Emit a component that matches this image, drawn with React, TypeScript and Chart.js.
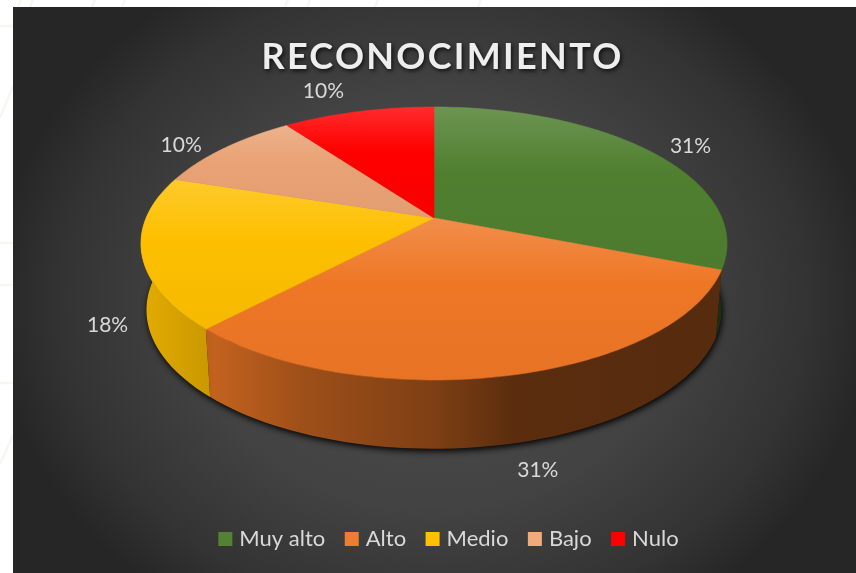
import React, { useEffect, useRef } from "react";
import { Chart, ArcElement, PieController, Legend, Title, Tooltip } from "chart.js";

// Survey shares, in percent
const categories = ["Muy alto", "Alto", "Medio", "Bajo", "Nulo"];
const shares = [31, 31, 18, 10, 10];
const sliceColors = ["#4f7f2f", "#ee7726", "#fdbf00", "#e9a274", "#ff0000"];
const legendColors = ["#548235", "#ed7d31", "#ffc000", "#f0ab7c", "#ff0000"];
const titleText = "RECONOCIMIENTO";

// Offsets of each percentage label from its slice's rim point
const labelOffsets = [
  [41, -5],
  [27, 95],
  [-34, 73],
  [-43, -3],
  [-35, -20],
];

// Viewing model of the tilted disc
const CX = 434;
const CY = 218;
const PERSPECTIVE = 0.1868;
const TOP_RX = 287.9;
const TOP_RY = 131.7;
const BASE_RX = 282.5;
const BASE_RY = 134;
const BASE_DROP = 66;
const TWO_PI = Math.PI * 2;
const FRONT_START = Math.acos(PERSPECTIVE);
const FRONT_END = TWO_PI - FRONT_START;

// Chart.js angle (0 = east, clockwise) to clock angle (0 = north)
const toClock = (a: number) => {
  const t = a + Math.PI / 2;
  return ((t % TWO_PI) + TWO_PI) % TWO_PI;
};

function projectTop(theta: number, radius = 1) {
  const u = Math.sin(theta) * radius;
  const v = -Math.cos(theta) * radius;
  const d = 1 - PERSPECTIVE * v;
  return { x: CX + (TOP_RX * u) / d, y: CY + (TOP_RY * v) / d };
}

function projectBase(theta: number) {
  const u = Math.sin(theta);
  const v = -Math.cos(theta);
  const d = 1 - PERSPECTIVE * v;
  return { x: CX + (BASE_RX * u) / d, y: CY + BASE_DROP + (BASE_RY * v) / d };
}

function tint(hex: string, amount: number) {
  const n = parseInt(hex.slice(1), 16);
  const channels = [(n >> 16) & 255, (n >> 8) & 255, n & 255];
  const out = channels.map((c) =>
    Math.round(amount >= 0 ? c + (255 - c) * amount : c * (1 + amount))
  );
  return `rgb(${out[0]},${out[1]},${out[2]})`;
}

// Light falling across the rim of the disc, left to right
const rimLight: [number, number][] = [
  [0, -0.1],
  [0.115, -0.2],
  [0.125, -0.18],
  [0.27, -0.33],
  [0.5, -0.47],
  [0.64, -0.62],
  [1, -0.64],
];

class Arc3D extends ArcElement {
  static id = "arc3d";

  draw(ctx: CanvasRenderingContext2D) {
    const { startAngle, endAngle } = this as any;
    const color = (this as any).options.backgroundColor as string;
    const from = toClock(startAngle);
    const to = from + (endAngle - startAngle);

    // Side wall, only where it faces the viewer
    const wallFrom = Math.max(from, FRONT_START);
    const wallTo = Math.min(to, FRONT_END);
    if (wallTo > wallFrom) {
      const wall = ctx.createLinearGradient(CX - 293, 0, CX + 293, 0);
      rimLight.forEach(([stop, amount]) => wall.addColorStop(stop, tint(color, amount)));
      ctx.beginPath();
      const steps = 60;
      for (let i = 0; i <= steps; i++) {
        const p = projectTop(wallFrom + ((wallTo - wallFrom) * i) / steps);
        i ? ctx.lineTo(p.x, p.y) : ctx.moveTo(p.x, p.y);
      }
      for (let i = steps; i >= 0; i--) {
        const p = projectBase(wallFrom + ((wallTo - wallFrom) * i) / steps);
        ctx.lineTo(p.x, p.y);
      }
      ctx.closePath();
      ctx.fillStyle = wall;
      ctx.fill();
    }

    // Top face
    const rim: { x: number; y: number }[] = [];
    const steps = 90;
    for (let i = 0; i <= steps; i++) rim.push(projectTop(from + ((to - from) * i) / steps));
    const ys = rim.map((p) => p.y).concat(CY);
    const minY = Math.min(...ys);
    const maxY = Math.max(...ys);
    const face = ctx.createLinearGradient(0, minY, 0, maxY);
    face.addColorStop(0, tint(color, 0.17));
    face.addColorStop(0.4, tint(color, 0));
    face.addColorStop(1, tint(color, -0.03));
    ctx.beginPath();
    ctx.moveTo(CX, CY);
    rim.forEach((p) => ctx.lineTo(p.x, p.y));
    ctx.closePath();
    ctx.fillStyle = face;
    ctx.strokeStyle = face;
    ctx.lineWidth = 0.6;
    ctx.fill();
    ctx.stroke();
  }
}

class Pie3DController extends PieController {
  static id = "pie3d";
  static defaults = { ...PieController.defaults, dataElementType: "arc3d" };
}

Chart.register(Pie3DController, Arc3D, ArcElement, PieController, Legend, Title, Tooltip);

// White page, faint backdrop strokes, then the dark panel
const panelPlugin = {
  id: "panel",
  beforeDraw(chart: Chart) {
    const { ctx, width, height } = chart;
    ctx.save();
    ctx.fillStyle = "#ffffff";
    ctx.fillRect(0, 0, width, height);
    ctx.strokeStyle = "#f6f6f2";
    ctx.lineWidth = 2.5;
    const strokes = [
      [0, 26, 13, 26],
      [0, 243, 13, 243],
      [0, 285, 13, 285],
      [0, 383, 13, 383],
      [0, 118, 13, 86],
      [0, 464, 13, 435],
      [18, 7, 21, 0],
      [30, 7, 33, 0],
      [92, 7, 95, 0],
      [122, 7, 125, 0],
      [285, 7, 288, 0],
      [307, 7, 310, 0],
      [375, 7, 378, 0],
      [478, 7, 481, 0],
    ];
    strokes.forEach(([x1, y1, x2, y2]) => {
      ctx.beginPath();
      ctx.moveTo(x1, y1);
      ctx.lineTo(x2, y2);
      ctx.stroke();
    });
    const px = 13;
    const py = 7;
    const cx = 434;
    const cy = 300;
    ctx.beginPath();
    ctx.rect(px, py, width - px, height - py);
    ctx.clip();
    ctx.translate(cx, cy);
    ctx.scale(1, 0.85);
    const glow = ctx.createRadialGradient(0, 0, 0, 0, 0, 440);
    glow.addColorStop(0, "#4c4c4c");
    glow.addColorStop(0.55, "#434343");
    glow.addColorStop(0.85, "#333333");
    glow.addColorStop(1, "#262626");
    ctx.fillStyle = glow;
    ctx.fillRect(-cx, -cy / 0.85 - 10, width, height / 0.85 + 20);
    ctx.restore();
  },
};

// Contact shadow under the disc
const groundShadowPlugin = {
  id: "groundShadow",
  beforeDatasetsDraw(chart: Chart) {
    const { ctx } = chart;
    ctx.save();
    ctx.shadowColor = "rgba(0,0,0,0.95)";
    ctx.shadowBlur = 6;
    ctx.shadowOffsetY = 2.5;
    ctx.shadowOffsetX = 1;
    ctx.fillStyle = "#0c0c0c";
    ctx.beginPath();
    for (let i = 0; i <= 180; i++) {
      const t = FRONT_START + ((FRONT_END - FRONT_START) * i) / 180;
      const p = projectBase(t);
      i ? ctx.lineTo(p.x, p.y) : ctx.moveTo(p.x, p.y);
    }
    ctx.closePath();
    ctx.fill();
    ctx.restore();
  },
};

// Percentage text beside each slice
const sliceLabelPlugin = {
  id: "sliceLabels",
  afterDatasetsDraw(chart: Chart) {
    const { ctx } = chart;
    const meta = chart.getDatasetMeta(0);
    const values = chart.data.datasets[0].data as number[];
    ctx.save();
    ctx.font = "21px Lato";
    ctx.fillStyle = "#d9d9d9";
    ctx.textAlign = "center";
    ctx.textBaseline = "middle";
    meta.data.forEach((el: any, i: number) => {
      const mid = toClock((el.startAngle + el.endAngle) / 2);
      const rim = projectTop(mid);
      ctx.fillText(`${values[i]}%`, rim.x + labelOffsets[i][0], rim.y + labelOffsets[i][1]);
    });
    ctx.restore();
  },
};

// Wider tracking and a soft drop shadow on the heading
const titleStylePlugin = {
  id: "titleStyle",
  afterInit(chart: any) {
    const block = chart.titleBlock;
    const original = block.draw.bind(block);
    block.draw = () => {
      const { ctx } = chart;
      ctx.save();
      ctx.letterSpacing = "2.3px";
      ctx.shadowColor = "rgba(0,0,0,0.75)";
      ctx.shadowBlur = 4;
      ctx.shadowOffsetX = 1.5;
      ctx.shadowOffsetY = 2;
      ctx.translate(-8, 0);
      original();
      ctx.restore();
    };
  },
};

export default function App() {
  const canvasRef = useRef<HTMLCanvasElement | null>(null);

  useEffect(() => {
    const canvas = canvasRef.current;
    if (!canvas) return;
    const chart = new Chart(canvas, {
      type: "pie3d" as any,
      data: {
        labels: categories,
        datasets: [
          {
            data: shares,
            backgroundColor: sliceColors,
            borderWidth: 0,
          },
        ],
      },
      plugins: [panelPlugin, groundShadowPlugin, sliceLabelPlugin, titleStylePlugin],
      options: {
        animation: false,
        responsive: false,
        events: [],
        layout: { padding: { left: 45, top: 36, bottom: 13, right: 0 } },
        plugins: {
          tooltip: { enabled: false },
          title: {
            display: true,
            text: titleText,
            color: "#eeeeee",
            font: { family: "Lato", size: 36, weight: "bold" },
            padding: 0,
          },
          legend: {
            display: true,
            position: "bottom",
            labels: {
              color: "#d9d9d9",
              font: { family: "Lato", size: 22 },
              boxWidth: 6,
              boxHeight: 6,
              padding: 23.5,
              generateLabels: () =>
                categories.map((text, i) => ({
                  text,
                  fillStyle: legendColors[i],
                  strokeStyle: legendColors[i],
                  lineWidth: 8,
                  fontColor: "#d9d9d9",
                  hidden: false,
                  index: i,
                })),
            },
          },
        },
      },
    } as any);
    return () => chart.destroy();
  }, []);

  return (
    <div style={{ position: "absolute", left: 0, top: 0, width: 856, height: 573 }}>
      <canvas ref={canvasRef} width={856} height={573} style={{ display: "block" }} />
    </div>
  );
}
